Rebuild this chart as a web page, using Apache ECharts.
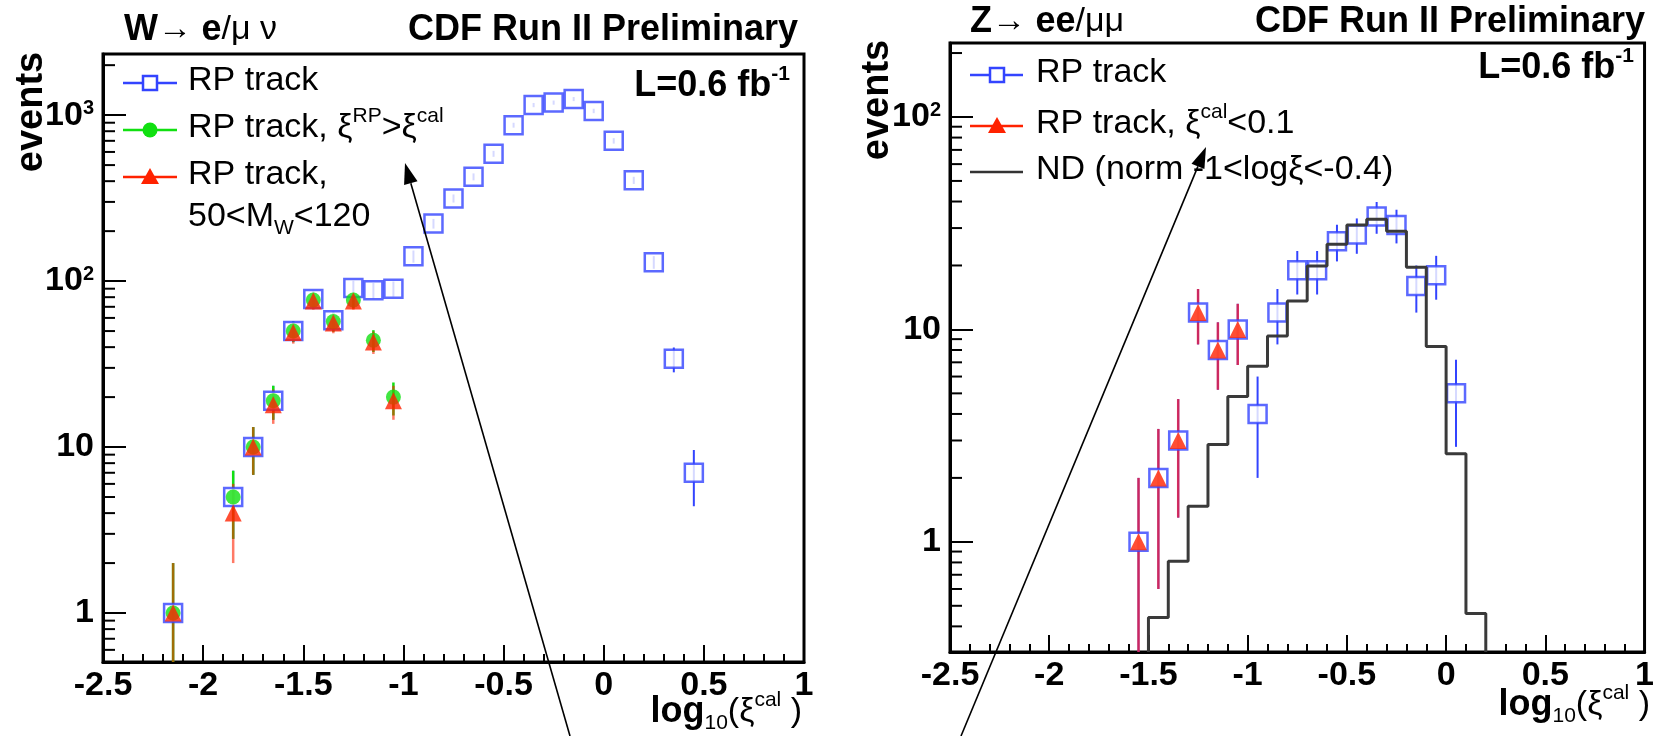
<!DOCTYPE html>
<html>
<head>
<meta charset="utf-8">
<script src="https://cdn.jsdelivr.net/npm/echarts@6/dist/echarts.min.js"></script>
<style>
  html, body { margin: 0; padding: 0; background: #fff; }
  #chart { width: 1657px; height: 736px; }
</style>
</head>
<body>
<div id="chart"></div>
<script>
// W -> e/mu nu, bin centres in log10(xi_cal)
var wBins = [-2.15, -1.85, -1.75, -1.65, -1.55, -1.45, -1.35, -1.25, -1.15, -1.05,
  -0.95, -0.85, -0.75, -0.65, -0.55, -0.45, -0.35, -0.25, -0.15, -0.05,
  0.05, 0.15, 0.25, 0.35, 0.45];
var wRP = [1, 5, 10, 19, 50, 78, 58, 91, 88, 90,
  141, 222, 315, 425, 585, 870, 1150, 1190, 1250, 1060,
  700, 405, 130, 34, 7];
var wRPErr = [1, 2.2, 3.2, 4.4, 7.1, 8.8, 7.6, 9.5, 9.4, 9.5,
  11.9, 14.9, 17.7, 20.6, 24.2, 29.5, 33.9, 34.5, 35.4, 32.6,
  26.5, 20.1, 11.4, 5.8, 2.6];
var wCutBins = [-2.15, -1.85, -1.75, -1.65, -1.55, -1.45, -1.35, -1.25, -1.15, -1.05];
var wXi = [1, 5, 10, 19, 50, 77, 57, 77, 44, 20];
var wXiErr = [1, 2.2, 3.2, 4.4, 7.1, 8.8, 7.5, 8.8, 6.6, 4.5];
var wMW = [1, 4, 10, 18, 49, 76, 56, 76, 43, 19];
var wMWErr = [1, 2, 3.2, 4.2, 7, 8.7, 7.5, 8.7, 6.6, 4.4];

// Z -> ee/mumu
var zBins = [-1.55, -1.45, -1.35, -1.25, -1.15, -1.05, -0.95, -0.85, -0.75,
  -0.65, -0.55, -0.45, -0.35, -0.25, -0.15, -0.05, 0.05];
var zRP = [1, 2, 3, 12, 8, 10, 4, 12, 19, 19, 26, 28, 34, 31, 16, 18, 5];
var zRPErr = [1, 1.4, 1.7, 3.5, 2.8, 3.2, 2, 3.5, 4.4, 4.4, 5.1, 5.3, 5.8, 5.6, 4, 4.2, 2.2];
var zCalBins = [-1.55, -1.45, -1.35, -1.25, -1.15, -1.05];
var zCal = [1, 2, 3, 12, 8, 10];
var zCalErr = [1, 1.4, 1.7, 3.5, 2.8, 3.2];
var ndEdges = [-1.5, -1.4, -1.3, -1.2, -1.1, -1.0, -0.9, -0.8, -0.7, -0.6,
  -0.5, -0.4, -0.3, -0.2, -0.1, 0.0, 0.1, 0.2];
var ndValues = [0.44, 0.81, 1.47, 2.87, 4.83, 6.7, 9.3, 13.6, 19.9, 25.2,
  31, 33, 29, 19.6, 8.3, 2.6, 0.46];

// axes
var wYMin = 0.507, wYMax = 2335;
var zYMin = 0.303, zYMax = 223;
var wMinorY = [0.6, 0.7, 0.8, 0.9, 2, 3, 4, 5, 6, 7, 8, 9, 20, 30, 40, 50, 60, 70, 80, 90,
  200, 300, 400, 500, 600, 700, 800, 900, 2000];
var zMinorY = [0.4, 0.5, 0.6, 0.7, 0.8, 0.9, 2, 3, 4, 5, 6, 7, 8, 9, 20, 30, 40, 50, 60, 70, 80, 90, 200];

var FONT = '"Liberation Sans", Arial, Helvetica, sans-serif';
var BLUE = '#3344ff', GREEN = '#11e011', RED = '#ff2200';

function pairs(xs, ys) {
  return xs.map(function (x, i) { return [x, ys[i]]; });
}
function triples(xs, ys, es) {
  return xs.map(function (x, i) { return [x, ys[i], es[i]]; });
}

function errBars(color, width, opacity, yMin) {
  return function (params, api) {
    var x = api.value(0), y = api.value(1), e = api.value(2);
    var p1 = api.coord([x, Math.max(y - e, yMin)]);
    var p2 = api.coord([x, y + e]);
    return {
      type: 'line',
      shape: { x1: p1[0], y1: p1[1], x2: p2[0], y2: p2[1] },
      style: { stroke: color, lineWidth: width, opacity: opacity }
    };
  };
}

function minorTicks(params, api) {
  var p = api.coord([api.value(0), api.value(1)]);
  return {
    type: 'line',
    shape: { x1: p[0], y1: p[1], x2: p[0] + 12, y2: p[1] },
    style: { stroke: '#000', lineWidth: 2 }
  };
}

function histPoints(edges, vals, yMin) {
  var pts = [[edges[0], yMin]];
  for (var i = 0; i < vals.length; i++) pts.push([edges[i], vals[i]]);
  pts.push([edges[edges.length - 1], vals[vals.length - 1]]);
  pts.push([edges[edges.length - 1], yMin]);
  return pts;
}

function xAxisOpt(gi) {
  return {
    gridIndex: gi, type: 'value', min: -2.5, max: 1, interval: 0.5,
    axisLine: { onZero: false, lineStyle: { color: '#000', width: 3 } },
    axisTick: { inside: true, length: 17, lineStyle: { color: '#000', width: 2 } },
    minorTick: { show: true, splitNumber: 5, length: 8, lineStyle: { color: '#000', width: 2 } },
    splitLine: { show: false },
    axisLabel: { fontFamily: FONT, fontWeight: 'bold', fontSize: 34, color: '#000', margin: 7 }
  };
}

var supRich = {
  b: { fontFamily: FONT, fontWeight: 'bold', fontSize: 34, color: '#000', lineHeight: 34 },
  s: { fontFamily: FONT, fontWeight: 'bold', fontSize: 20, color: '#000', lineHeight: 20, verticalAlign: 'top' }
};

function yAxisOpt(gi, mn, mx) {
  return {
    gridIndex: gi, type: 'log', logBase: 10, min: mn, max: mx,
    axisLine: { show: true, onZero: false, lineStyle: { color: '#000', width: 3 } },
    axisTick: { inside: true, length: 23, lineStyle: { color: '#000', width: 2 } },
    splitLine: { show: false },
    axisLabel: {
      margin: 9, showMinLabel: false, showMaxLabel: false,
      formatter: function (v) {
        var k = Math.round(Math.log(v) / Math.LN10);
        if (k === 0) return '{b|1}';
        if (k === 1) return '{b|10}';
        return '{b|10}{s|' + k + '}';
      },
      rich: supRich
    }
  };
}

var txtRich = {
  n: { fontFamily: FONT, fontSize: 34, color: '#000', lineHeight: 44 },
  b: { fontFamily: FONT, fontSize: 36, fontWeight: 'bold', color: '#000', lineHeight: 44 },
  ev: { fontFamily: FONT, fontSize: 38, fontWeight: 'bold', color: '#000', lineHeight: 44 },
  sup: { fontFamily: FONT, fontSize: 21, color: '#000', lineHeight: 21, verticalAlign: 'top' },
  bsup: { fontFamily: FONT, fontSize: 21, fontWeight: 'bold', color: '#000', lineHeight: 21, verticalAlign: 'top' },
  sub: { fontFamily: FONT, fontSize: 21, color: '#000', lineHeight: 21, verticalAlign: 'bottom' }
};

function txt(x, y, text, align, extra) {
  var o = {
    type: 'text', x: x, y: y, z: 50,
    style: { text: text, rich: txtRich, align: align || 'left', verticalAlign: 'middle' }
  };
  if (extra) for (var k in extra) o[k] = extra[k];
  return o;
}

function legLine(x0, x1, y, color) {
  return { type: 'line', z: 50, shape: { x1: x0, y1: y, x2: x1, y2: y }, style: { stroke: color, lineWidth: 2.5 } };
}

function arrow(x0, y0, x1, y1) {
  var dx = x1 - x0, dy = y1 - y0, L = Math.sqrt(dx * dx + dy * dy);
  var ux = dx / L, uy = dy / L, hl = 21, hw = 7;
  var bx = x1 - ux * hl, by = y1 - uy * hl;
  return [
    { type: 'line', z: 100, shape: { x1: x0, y1: y0, x2: bx, y2: by }, style: { stroke: '#000', lineWidth: 1.6 } },
    { type: 'polygon', z: 100, shape: { points: [[x1, y1], [bx - uy * hw, by + ux * hw], [bx + uy * hw, by - ux * hw]] }, style: { fill: '#000' } }
  ];
}

var graphics = [
  // left panel texts
  txt(124, 30, '{b|W}{n|→ }{b|e}{n|/μ ν}'),
  txt(798, 30, '{b|CDF Run II Preliminary}', 'right'),
  txt(790, 86, '{b|L=0.6 fb}{bsup|-1}', 'right'),
  txt(32, 112, '{ev|events}', 'center', { rotation: Math.PI / 2 }),
  txt(802, 712, '{b|log}{sub|10}{n|(ξ}{sup|cal}{n| )}', 'right'),
  legLine(123, 177, 83, BLUE),
  { type: 'rect', z: 51, shape: { x: 143, y: 76, width: 14, height: 14 }, style: { fill: '#fff', stroke: BLUE, lineWidth: 2.5 } },
  txt(188, 81, '{n|RP track}'),
  legLine(123, 177, 130, GREEN),
  { type: 'circle', z: 51, shape: { cx: 150, cy: 130, r: 7.5 }, style: { fill: GREEN } },
  txt(188, 128, '{n|RP track, ξ}{sup|RP}{n|>ξ}{sup|cal}'),
  legLine(123, 177, 177, RED),
  { type: 'polygon', z: 51, shape: { points: [[150, 168], [159, 184], [141, 184]] }, style: { fill: RED } },
  txt(188, 175, '{n|RP track,}'),
  txt(188, 217, '{n|50<M}{sub|W}{n|<120}'),
  // right panel texts
  txt(970, 22, '{b|Z}{n|→ }{b|ee}{n|/μμ}'),
  txt(1645, 22, '{b|CDF Run II Preliminary}', 'right'),
  txt(1634, 68, '{b|L=0.6 fb}{bsup|-1}', 'right'),
  txt(878, 100, '{ev|events}', 'center', { rotation: Math.PI / 2 }),
  txt(1650, 705, '{b|log}{sub|10}{n|(ξ}{sup|cal}{n| )}', 'right'),
  legLine(970, 1023, 75, BLUE),
  { type: 'rect', z: 51, shape: { x: 990, y: 68, width: 14, height: 14 }, style: { fill: '#fff', stroke: BLUE, lineWidth: 2.5 } },
  txt(1036, 73, '{n|RP track}'),
  legLine(970, 1023, 126, RED),
  { type: 'polygon', z: 51, shape: { points: [[997, 117], [1006, 133], [988, 133]] }, style: { fill: RED } },
  txt(1036, 124, '{n|RP track, ξ}{sup|cal}{n|<0.1}'),
  legLine(970, 1023, 172, '#333'),
  txt(1036, 170, '{n|ND (norm -1<logξ<-0.4)}')
].concat(arrow(570, 736, 405, 163)).concat(arrow(961, 736, 1206, 147));

var option = {
  backgroundColor: '#fff',
  animation: false,
  grid: [
    { left: 103, top: 54, width: 701, height: 608, show: true, borderColor: '#000', borderWidth: 3 },
    { left: 950, top: 43, width: 700, height: 609, show: true, borderColor: '#000', borderWidth: 3 }
  ],
  xAxis: [xAxisOpt(0), xAxisOpt(1)],
  yAxis: [yAxisOpt(0, wYMin, wYMax), yAxisOpt(1, zYMin, zYMax)],
  graphic: graphics,
  series: [
    { type: 'custom', xAxisIndex: 0, yAxisIndex: 0, renderItem: minorTicks, silent: true,
      data: wMinorY.map(function (v) { return [-2.5, v]; }) },
    { type: 'custom', xAxisIndex: 1, yAxisIndex: 1, renderItem: minorTicks, silent: true,
      data: zMinorY.map(function (v) { return [-2.5, v]; }) },

    // W panel
    { name: 'RP track err', type: 'custom', xAxisIndex: 0, yAxisIndex: 0, z: 2, silent: true,
      renderItem: errBars(BLUE, 2, 1, wYMin), data: triples(wBins, wRP, wRPErr) },
    { name: 'xi err', type: 'custom', xAxisIndex: 0, yAxisIndex: 0, z: 2, silent: true,
      renderItem: errBars(GREEN, 2.5, 1, wYMin), data: triples(wCutBins, wXi, wXiErr) },
    { name: 'MW err', type: 'custom', xAxisIndex: 0, yAxisIndex: 0, z: 2, silent: true,
      renderItem: errBars(RED, 2.5, 0.6, wYMin), data: triples(wCutBins, wMW, wMWErr) },
    { name: 'RP track', type: 'scatter', xAxisIndex: 0, yAxisIndex: 0, z: 3, silent: true,
      symbol: 'rect', symbolSize: 18,
      itemStyle: { color: '#fff', borderColor: BLUE, borderWidth: 2.5 },
      data: pairs(wBins, wRP) },
    { name: 'RP track, xi', type: 'scatter', xAxisIndex: 0, yAxisIndex: 0, z: 4, silent: true,
      symbol: 'circle', symbolSize: 15, itemStyle: { color: GREEN },
      data: pairs(wCutBins, wXi) },
    { name: 'RP track, MW', type: 'scatter', xAxisIndex: 0, yAxisIndex: 0, z: 5, silent: true,
      symbol: 'triangle', symbolSize: 17, itemStyle: { color: RED },
      data: pairs(wCutBins, wMW) },

    // Z panel
    { name: 'Z RP err', type: 'custom', xAxisIndex: 1, yAxisIndex: 1, z: 2, silent: true,
      renderItem: errBars(BLUE, 2, 1, zYMin), data: triples(zBins, zRP, zRPErr) },
    { name: 'Z cal err', type: 'custom', xAxisIndex: 1, yAxisIndex: 1, z: 2, silent: true,
      renderItem: errBars('#f0203a', 2.5, 0.8, zYMin), data: triples(zCalBins, zCal, zCalErr) },
    { name: 'Z RP track', type: 'scatter', xAxisIndex: 1, yAxisIndex: 1, z: 3, silent: true,
      symbol: 'rect', symbolSize: 18,
      itemStyle: { color: '#fff', borderColor: BLUE, borderWidth: 2.5 },
      data: pairs(zBins, zRP) },
    { name: 'Z cal', type: 'scatter', xAxisIndex: 1, yAxisIndex: 1, z: 5, silent: true,
      symbol: 'triangle', symbolSize: 17, itemStyle: { color: RED },
      data: pairs(zCalBins, zCal) },
    { name: 'ND', type: 'line', xAxisIndex: 1, yAxisIndex: 1, z: 6, silent: true,
      step: 'end', symbol: 'none',
      lineStyle: { color: '#3a3a3a', width: 3 },
      data: histPoints(ndEdges, ndValues, zYMin) }
  ]
};

var chart = echarts.init(document.getElementById('chart'), null, { renderer: 'canvas' });
chart.setOption(option);
</script>
</body>
</html>
